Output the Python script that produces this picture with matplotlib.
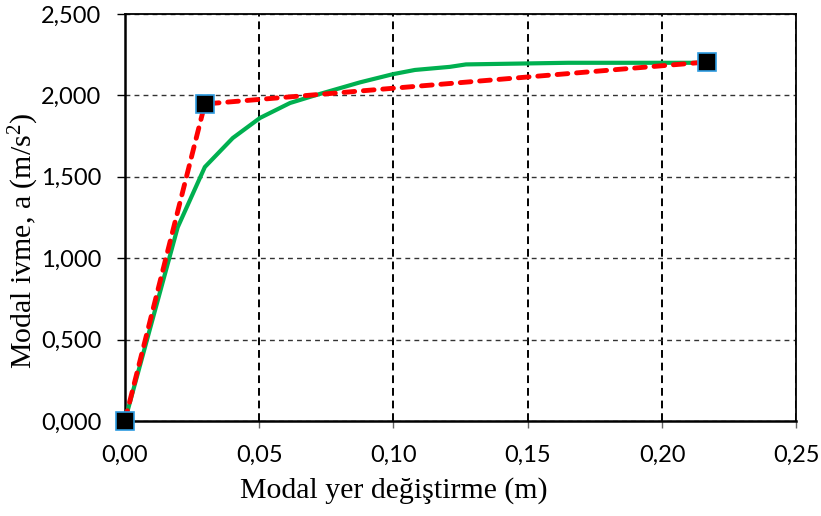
import numpy as np
import matplotlib.pyplot as plt
from matplotlib.ticker import FuncFormatter

plt.rcParams["mathtext.fontset"] = "custom"
plt.rcParams["mathtext.rm"] = "Liberation Serif"
plt.rcParams["mathtext.it"] = "Liberation Serif:italic"

# capacity curve (green) and bilinear idealisation (red)
disp_curve = [0.0, 0.0197, 0.0298, 0.0402, 0.0503, 0.0615, 0.0708, 0.0876,
              0.0998, 0.108, 0.121, 0.127, 0.165, 0.213, 0.2168]
acc_curve = [0.0, 1.19, 1.56, 1.738, 1.861, 1.953, 2.0, 2.08,
             2.13, 2.156, 2.175, 2.19, 2.2, 2.2, 2.2]

disp_bilin = [0.0, 0.0298, 0.2168]
acc_bilin = [0.0, 1.947, 2.205]

fig = plt.figure(figsize=(8.21, 5.16), dpi=100)
ax = fig.add_axes([0.152, 0.184, 0.818, 0.789])

ax.plot(disp_curve, acc_curve, color="#00b050", lw=3, zorder=3)
ax.plot(disp_bilin, acc_bilin, color="#ff0000", lw=3.5, ls=(0, (2.2, 1.8)),
        dash_capstyle="round", zorder=4)
ax.plot(disp_bilin, acc_bilin, ls="none", marker="s", ms=13,
        mfc="black", mec="#2e9be0", mew=1.2, zorder=5, clip_on=False)

ax.set_xlim(0, 0.25)
ax.set_ylim(0, 2.5)
ax.set_xticks(np.arange(0, 0.2501, 0.05))
ax.set_yticks(np.arange(0, 2.501, 0.5))
ax.xaxis.set_major_formatter(FuncFormatter(lambda v, p: f"{v:.2f}".replace(".", ",")))
ax.yaxis.set_major_formatter(FuncFormatter(lambda v, p: f"{v:.3f}".replace(".", ",")))

for lab in ax.get_xticklabels() + ax.get_yticklabels():
    lab.set_fontfamily("Lato")
    lab.set_fontsize(17)

ax.tick_params(axis="x", length=5, width=1, color="#666666", direction="out", pad=12)
ax.tick_params(axis="y", length=6, width=1, direction="out", pad=11)

ax.xaxis.grid(True, color="black", ls=(0, (4, 2.5)), lw=1.4)
ax.yaxis.grid(True, color="#333333", ls=(0, (3.5, 3)), lw=1.0)
ax.set_axisbelow(True)

for side in ["left", "bottom"]:
    ax.spines[side].set_linewidth(1.8)
for side in ["top", "right"]:
    ax.spines[side].set_linewidth(1.3)

ax.set_xlabel("Modal yer değiştirme (m)", family="Liberation Serif", fontsize=21.5)
ax.set_ylabel("Modal ivme, a (m/s$^2$)", family="Liberation Serif", fontsize=21.5)
ax.xaxis.set_label_coords(0.40, -0.138)
ax.yaxis.set_label_coords(-0.125, 0.442)

fig.savefig("out.png", dpi=100)
